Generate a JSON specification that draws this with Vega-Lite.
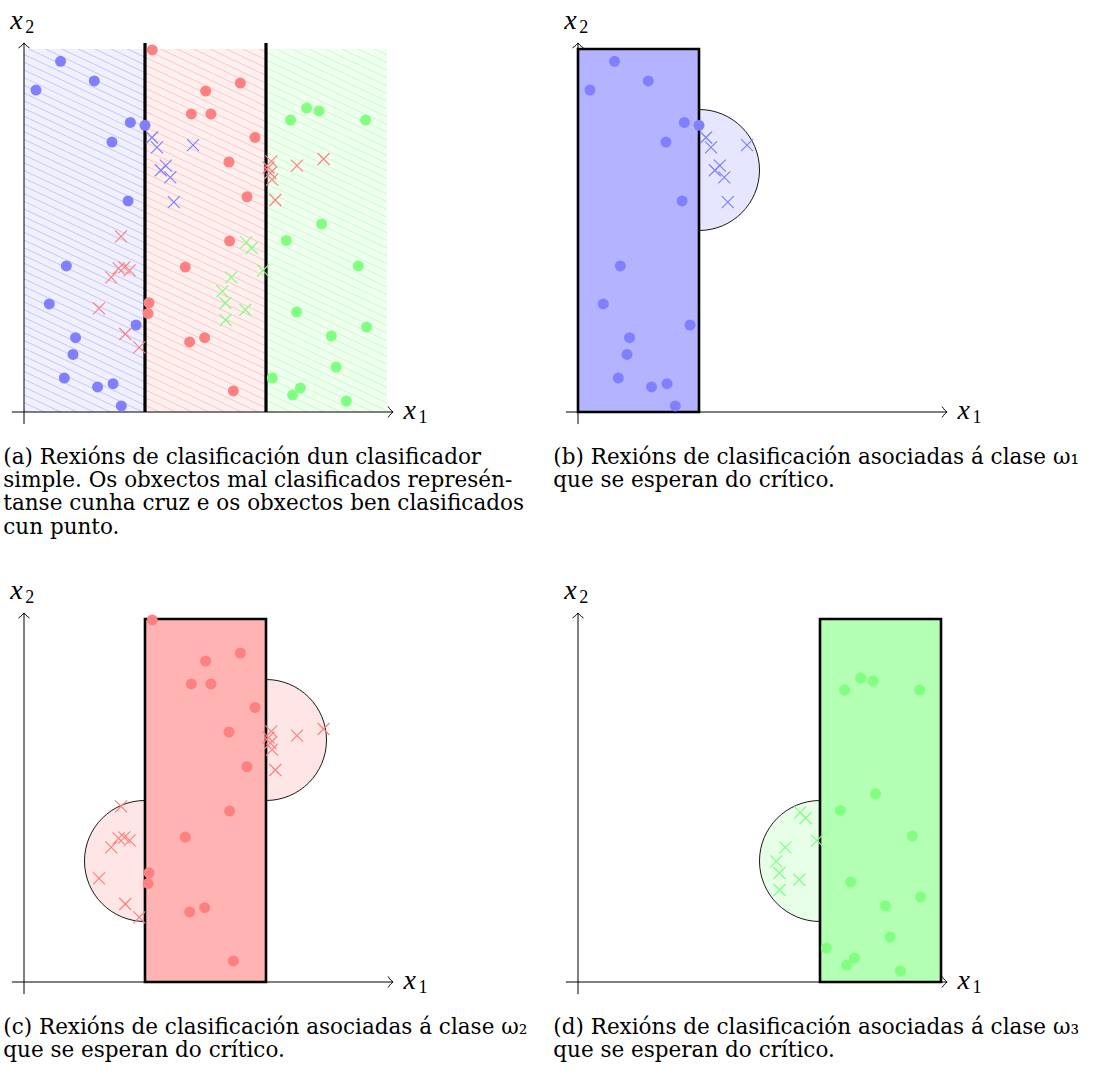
{
"$schema": "https://vega.github.io/schema/vega-lite/v6.json",
"padding": 0,
"background": "#ffffff",
"config": {"view": {"stroke": null}, "axis": {"disable": true}},
"datasets": {
"pts": [
{"x":0.302,"y":2.898,"cls":1,"ok":1},{"x":0.581,"y":2.736,"cls":1,"ok":1},{"x":0.099,"y":2.661,"cls":1,"ok":1},{"x":0.879,"y":2.393,"cls":1,"ok":1},{"x":1.0,"y":2.369,"cls":1,"ok":1},{"x":0.727,"y":2.231,"cls":1,"ok":1},{"x":0.860,"y":1.744,"cls":1,"ok":1},{"x":0.350,"y":1.207,"cls":1,"ok":1},{"x":0.209,"y":0.893,"cls":1,"ok":1},{"x":0.926,"y":0.719,"cls":1,"ok":1},{"x":0.426,"y":0.614,"cls":1,"ok":1},{"x":0.405,"y":0.476,"cls":1,"ok":1},{"x":0.333,"y":0.281,"cls":1,"ok":1},{"x":0.608,"y":0.207,"cls":1,"ok":1},{"x":0.736,"y":0.234,"cls":1,"ok":1},{"x":0.804,"y":0.050,"cls":1,"ok":1},
{"x":1.058,"y":2.269,"cls":1,"ok":0},{"x":1.099,"y":2.187,"cls":1,"ok":0},{"x":1.172,"y":2.036,"cls":1,"ok":0},{"x":1.131,"y":1.998,"cls":1,"ok":0},{"x":1.209,"y":1.939,"cls":1,"ok":0},{"x":1.397,"y":2.205,"cls":1,"ok":0},{"x":1.238,"y":1.734,"cls":1,"ok":0},
{"x":1.060,"y":2.992,"cls":2,"ok":1},{"x":1.788,"y":2.719,"cls":2,"ok":1},{"x":1.501,"y":2.653,"cls":2,"ok":1},{"x":1.383,"y":2.463,"cls":2,"ok":1},{"x":1.545,"y":2.463,"cls":2,"ok":1},{"x":1.909,"y":2.269,"cls":2,"ok":1},{"x":1.694,"y":2.066,"cls":2,"ok":1},{"x":1.843,"y":1.779,"cls":2,"ok":1},{"x":1.699,"y":1.413,"cls":2,"ok":1},{"x":1.333,"y":1.198,"cls":2,"ok":1},{"x":1.033,"y":0.903,"cls":2,"ok":1},{"x":1.025,"y":0.815,"cls":2,"ok":1},{"x":1.369,"y":0.579,"cls":2,"ok":1},{"x":1.493,"y":0.614,"cls":2,"ok":1},{"x":1.730,"y":0.174,"cls":2,"ok":1},
{"x":0.802,"y":1.451,"cls":2,"ok":0},{"x":0.782,"y":1.187,"cls":2,"ok":0},{"x":0.829,"y":1.195,"cls":2,"ok":0},{"x":0.873,"y":1.170,"cls":2,"ok":0},{"x":0.721,"y":1.112,"cls":2,"ok":0},{"x":0.620,"y":0.856,"cls":2,"ok":0},{"x":0.837,"y":0.645,"cls":2,"ok":0},{"x":0.953,"y":0.534,"cls":2,"ok":0},{"x":2.044,"y":2.071,"cls":2,"ok":0},{"x":2.021,"y":2.021,"cls":2,"ok":0},{"x":2.036,"y":1.975,"cls":2,"ok":0},{"x":2.050,"y":1.920,"cls":2,"ok":0},{"x":2.256,"y":2.036,"cls":2,"ok":0},{"x":2.476,"y":2.091,"cls":2,"ok":0},{"x":2.077,"y":1.752,"cls":2,"ok":0},
{"x":2.336,"y":2.512,"cls":3,"ok":1},{"x":2.438,"y":2.488,"cls":3,"ok":1},{"x":2.203,"y":2.413,"cls":3,"ok":1},{"x":2.823,"y":2.413,"cls":3,"ok":1},{"x":2.460,"y":1.554,"cls":3,"ok":1},{"x":2.168,"y":1.418,"cls":3,"ok":1},{"x":2.763,"y":1.207,"cls":3,"ok":1},{"x":2.253,"y":0.826,"cls":3,"ok":1},{"x":2.831,"y":0.702,"cls":3,"ok":1},{"x":2.540,"y":0.628,"cls":3,"ok":1},{"x":2.579,"y":0.372,"cls":3,"ok":1},{"x":2.052,"y":0.281,"cls":3,"ok":1},{"x":2.284,"y":0.198,"cls":3,"ok":1},{"x":2.220,"y":0.140,"cls":3,"ok":1},{"x":2.664,"y":0.091,"cls":3,"ok":1},
{"x":1.837,"y":1.402,"cls":3,"ok":0},{"x":1.881,"y":1.355,"cls":3,"ok":0},{"x":1.975,"y":1.168,"cls":3,"ok":0},{"x":1.713,"y":1.112,"cls":3,"ok":0},{"x":1.639,"y":0.997,"cls":3,"ok":0},{"x":1.664,"y":0.901,"cls":3,"ok":0},{"x":1.829,"y":0.845,"cls":3,"ok":0},{"x":1.666,"y":0.760,"cls":3,"ok":0}
]
},
"concat": [
{
"width": 363, "height": 363,
"data": {"values": [{}]},
"layer": [
{"mark": {"type": "rect", "fill": "#ffffff"}, "encoding": {"x": {"datum": -0.196, "scale": {"domain": [0, 3], "nice": false, "zero": false}}, "x2": {"datum": -0.19}, "y": {"datum": 3.399, "scale": {"domain": [0, 3], "nice": false, "zero": false}}, "y2": {"datum": 3.393}}},
{"data": {"values": [{"cls": 1, "lo": 0, "hi": 1}, {"cls": 2, "lo": 1, "hi": 2}, {"cls": 3, "lo": 2, "hi": 3}]},
 "mark": {"type": "rect"},
 "encoding": {"x": {"field": "lo", "type": "quantitative", "scale": {"domain": [0, 3], "nice": false, "zero": false}}, "x2": {"field": "hi"}, "y": {"datum": 0, "scale": {"domain": [0, 3], "nice": false, "zero": false}}, "y2": {"datum": 3},
  "fill": {"field": "cls", "type": "nominal", "scale": {"domain": [1, 2, 3], "range": ["#c4c4ff", "#ffc4c4", "#c4ffc4"]}, "legend": null}}},
{"mark": {"type": "rule", "color": "#ffffff", "strokeOpacity": 0.75, "strokeWidth": 560, "strokeCap": "butt", "strokeDash": [6.1, 0.9], "clip": true},
 "encoding": {"x": {"datum": 0.56, "scale": {"domain": [0, 3], "nice": false, "zero": false}}, "y": {"datum": -0.5, "scale": {"domain": [0, 3], "nice": false, "zero": false}}, "x2": {"datum": 2.44}, "y2": {"datum": 3.5}}},
{"data": {"values": [{"b": 1}, {"b": 2}]},
 "mark": {"type": "rule", "color": "#000000", "strokeWidth": 3.2},
 "encoding": {"x": {"field": "b", "type": "quantitative", "scale": {"domain": [0, 3], "nice": false, "zero": false}}, "y": {"datum": 0, "scale": {"domain": [0, 3], "nice": false, "zero": false}}, "y2": {"datum": 3.05}}},
{"mark": {"type": "rule", "color": "#000000", "strokeWidth": 1}, "encoding": {"x": {"datum": -0.1, "scale": {"domain": [0, 3], "nice": false, "zero": false}}, "x2": {"datum": 3.05}, "y": {"datum": 0, "scale": {"domain": [0, 3], "nice": false, "zero": false}}}},
{"mark": {"type": "rule", "color": "#000000", "strokeWidth": 1}, "encoding": {"x": {"datum": 0, "scale": {"domain": [0, 3], "nice": false, "zero": false}}, "y": {"datum": -0.1, "scale": {"domain": [0, 3], "nice": false, "zero": false}}, "y2": {"datum": 3.05}}},
{"mark": {"type": "point", "shape": "M-1,-1.1C-0.6,-0.5 -0.25,-0.15 0,0C-0.25,0.15 -0.6,0.5 -1,1.1", "filled": false, "stroke": "#000000", "strokeWidth": 1, "size": 100, "opacity": 1}, "encoding": {"x": {"datum": 3.05, "scale": {"domain": [0, 3], "nice": false, "zero": false}}, "y": {"datum": 0, "scale": {"domain": [0, 3], "nice": false, "zero": false}}}},
{"mark": {"type": "point", "shape": "M-1,-1.1C-0.6,-0.5 -0.25,-0.15 0,0C-0.25,0.15 -0.6,0.5 -1,1.1", "filled": false, "stroke": "#000000", "strokeWidth": 1, "size": 100, "opacity": 1, "angle": -90}, "encoding": {"x": {"datum": 0, "scale": {"domain": [0, 3], "nice": false, "zero": false}}, "y": {"datum": 3.05, "scale": {"domain": [0, 3], "nice": false, "zero": false}}}},
{"mark": {"type": "text", "text": "x", "font": "Liberation Serif", "fontStyle": "italic", "fontSize": 28, "align": "left", "baseline": "alphabetic", "color": "#000000"}, "encoding": {"x": {"datum": 3.137, "scale": {"domain": [0, 3], "nice": false, "zero": false}}, "y": {"datum": -0.058, "scale": {"domain": [0, 3], "nice": false, "zero": false}}}},
{"mark": {"type": "text", "text": "1", "font": "Liberation Serif", "fontSize": 18, "align": "left", "baseline": "alphabetic", "color": "#000000"}, "encoding": {"x": {"datum": 3.261, "scale": {"domain": [0, 3], "nice": false, "zero": false}}, "y": {"datum": -0.091, "scale": {"domain": [0, 3], "nice": false, "zero": false}}}},
{"mark": {"type": "text", "text": "x", "font": "Liberation Serif", "fontStyle": "italic", "fontSize": 28, "align": "left", "baseline": "alphabetic", "color": "#000000"}, "encoding": {"x": {"datum": -0.113, "scale": {"domain": [0, 3], "nice": false, "zero": false}}, "y": {"datum": 3.165, "scale": {"domain": [0, 3], "nice": false, "zero": false}}}},
{"mark": {"type": "text", "text": "2", "font": "Liberation Serif", "fontSize": 18, "align": "left", "baseline": "alphabetic", "color": "#000000"}, "encoding": {"x": {"datum": 0.011, "scale": {"domain": [0, 3], "nice": false, "zero": false}}, "y": {"datum": 3.132, "scale": {"domain": [0, 3], "nice": false, "zero": false}}}},
{"data": {"name": "pts"}, "transform": [{"filter": "datum.ok == 1"}],
 "mark": {"type": "circle", "size": 121, "opacity": 1},
 "encoding": {"x": {"field": "x", "type": "quantitative", "scale": {"domain": [0, 3], "nice": false, "zero": false}}, "y": {"field": "y", "type": "quantitative", "scale": {"domain": [0, 3], "nice": false, "zero": false}}, "color": {"field": "cls", "type": "nominal", "scale": {"domain": [1, 2, 3], "range": ["#8080ff", "#ff8080", "#80ff80"]}, "legend": null}}},
{"data": {"name": "pts"}, "transform": [{"filter": "datum.ok == 0"}],
 "mark": {"type": "point", "shape": "M-1,-1L1,1M-1,1L1,-1", "filled": false, "size": 144, "strokeWidth": 1.2, "opacity": 1},
 "encoding": {"x": {"field": "x", "type": "quantitative", "scale": {"domain": [0, 3], "nice": false, "zero": false}}, "y": {"field": "y", "type": "quantitative", "scale": {"domain": [0, 3], "nice": false, "zero": false}}, "color": {"field": "cls", "type": "nominal", "scale": {"domain": [1, 2, 3], "range": ["#8080ff", "#ff8080", "#80ff80"]}, "legend": null}}},
{"mark": {"type": "text", "text": ["(a) Rexións de clasificación dun clasificador", "simple. Os obxectos mal clasificados represén-", "tanse cunha cruz e os obxectos ben clasificados", "cun punto."], "font": "DejaVu Serif", "fontSize": 21.5, "lineHeight": 23.3, "align": "left", "baseline": "alphabetic", "color": "#000000"},
 "encoding": {"x": {"datum": -0.171, "scale": {"domain": [0, 3], "nice": false, "zero": false}}, "y": {"datum": -0.427, "scale": {"domain": [0, 3], "nice": false, "zero": false}}}}
]
},
{
"width": 363, "height": 363,
"data": {"values": [{}]},
"layer": [
{"mark": {"type": "rule", "color": "#000000", "strokeWidth": 1}, "encoding": {"x": {"datum": -0.1, "scale": {"domain": [0, 3], "nice": false, "zero": false}}, "x2": {"datum": 3.05}, "y": {"datum": 0, "scale": {"domain": [0, 3], "nice": false, "zero": false}}}},
{"mark": {"type": "rule", "color": "#000000", "strokeWidth": 1}, "encoding": {"x": {"datum": 0, "scale": {"domain": [0, 3], "nice": false, "zero": false}}, "y": {"datum": -0.1, "scale": {"domain": [0, 3], "nice": false, "zero": false}}, "y2": {"datum": 3.05}}},
{"mark": {"type": "point", "shape": "M-1,-1.1C-0.6,-0.5 -0.25,-0.15 0,0C-0.25,0.15 -0.6,0.5 -1,1.1", "filled": false, "stroke": "#000000", "strokeWidth": 1, "size": 100, "opacity": 1}, "encoding": {"x": {"datum": 3.05, "scale": {"domain": [0, 3], "nice": false, "zero": false}}, "y": {"datum": 0, "scale": {"domain": [0, 3], "nice": false, "zero": false}}}},
{"mark": {"type": "point", "shape": "M-1,-1.1C-0.6,-0.5 -0.25,-0.15 0,0C-0.25,0.15 -0.6,0.5 -1,1.1", "filled": false, "stroke": "#000000", "strokeWidth": 1, "size": 100, "opacity": 1, "angle": -90}, "encoding": {"x": {"datum": 0, "scale": {"domain": [0, 3], "nice": false, "zero": false}}, "y": {"datum": 3.05, "scale": {"domain": [0, 3], "nice": false, "zero": false}}}},
{"mark": {"type": "text", "text": "x", "font": "Liberation Serif", "fontStyle": "italic", "fontSize": 28, "align": "left", "baseline": "alphabetic", "color": "#000000"}, "encoding": {"x": {"datum": 3.137, "scale": {"domain": [0, 3], "nice": false, "zero": false}}, "y": {"datum": -0.058, "scale": {"domain": [0, 3], "nice": false, "zero": false}}}},
{"mark": {"type": "text", "text": "1", "font": "Liberation Serif", "fontSize": 18, "align": "left", "baseline": "alphabetic", "color": "#000000"}, "encoding": {"x": {"datum": 3.261, "scale": {"domain": [0, 3], "nice": false, "zero": false}}, "y": {"datum": -0.091, "scale": {"domain": [0, 3], "nice": false, "zero": false}}}},
{"mark": {"type": "text", "text": "x", "font": "Liberation Serif", "fontStyle": "italic", "fontSize": 28, "align": "left", "baseline": "alphabetic", "color": "#000000"}, "encoding": {"x": {"datum": -0.113, "scale": {"domain": [0, 3], "nice": false, "zero": false}}, "y": {"datum": 3.165, "scale": {"domain": [0, 3], "nice": false, "zero": false}}}},
{"mark": {"type": "text", "text": "2", "font": "Liberation Serif", "fontSize": 18, "align": "left", "baseline": "alphabetic", "color": "#000000"}, "encoding": {"x": {"datum": 0.011, "scale": {"domain": [0, 3], "nice": false, "zero": false}}, "y": {"datum": 3.132, "scale": {"domain": [0, 3], "nice": false, "zero": false}}}},
{"mark": {"type": "point", "shape": "M0,-1A1,1 0 0,1 0,1Z", "filled": true, "fill": "#e6e6ff", "stroke": "#000000", "strokeWidth": 0.9, "size": 14641, "opacity": 1}, "encoding": {"x": {"datum": 1, "scale": {"domain": [0, 3], "nice": false, "zero": false}}, "y": {"datum": 2, "scale": {"domain": [0, 3], "nice": false, "zero": false}}}},
{"mark": {"type": "rect", "fill": "#b3b3ff", "stroke": "#000000", "strokeWidth": 2.6}, "encoding": {"x": {"datum": 0, "scale": {"domain": [0, 3], "nice": false, "zero": false}}, "x2": {"datum": 1}, "y": {"datum": 0, "scale": {"domain": [0, 3], "nice": false, "zero": false}}, "y2": {"datum": 3}}},
{"data": {"name": "pts"}, "transform": [{"filter": "datum.cls == 1 && datum.ok == 1"}],
 "mark": {"type": "circle", "size": 121, "opacity": 1, "color": "#8080ff"},
 "encoding": {"x": {"field": "x", "type": "quantitative", "scale": {"domain": [0, 3], "nice": false, "zero": false}}, "y": {"field": "y", "type": "quantitative", "scale": {"domain": [0, 3], "nice": false, "zero": false}}}},
{"data": {"name": "pts"}, "transform": [{"filter": "datum.cls == 1 && datum.ok == 0"}],
 "mark": {"type": "point", "shape": "M-1,-1L1,1M-1,1L1,-1", "filled": false, "size": 144, "strokeWidth": 1.2, "opacity": 1, "color": "#8080ff"},
 "encoding": {"x": {"field": "x", "type": "quantitative", "scale": {"domain": [0, 3], "nice": false, "zero": false}}, "y": {"field": "y", "type": "quantitative", "scale": {"domain": [0, 3], "nice": false, "zero": false}}}},
{"mark": {"type": "text", "text": ["(b) Rexións de clasificación asociadas á clase ω₁", "que se esperan do crítico."], "font": "DejaVu Serif", "fontSize": 21.5, "lineHeight": 23.3, "align": "left", "baseline": "alphabetic", "color": "#000000"},
 "encoding": {"x": {"datum": -0.204, "scale": {"domain": [0, 3], "nice": false, "zero": false}}, "y": {"datum": -0.427, "scale": {"domain": [0, 3], "nice": false, "zero": false}}}}
]
},
{
"width": 363, "height": 363,
"data": {"values": [{}]},
"layer": [
{"mark": {"type": "rule", "color": "#000000", "strokeWidth": 1}, "encoding": {"x": {"datum": -0.1, "scale": {"domain": [0, 3], "nice": false, "zero": false}}, "x2": {"datum": 3.05}, "y": {"datum": 0, "scale": {"domain": [0, 3], "nice": false, "zero": false}}}},
{"mark": {"type": "rule", "color": "#000000", "strokeWidth": 1}, "encoding": {"x": {"datum": 0, "scale": {"domain": [0, 3], "nice": false, "zero": false}}, "y": {"datum": -0.1, "scale": {"domain": [0, 3], "nice": false, "zero": false}}, "y2": {"datum": 3.05}}},
{"mark": {"type": "point", "shape": "M-1,-1.1C-0.6,-0.5 -0.25,-0.15 0,0C-0.25,0.15 -0.6,0.5 -1,1.1", "filled": false, "stroke": "#000000", "strokeWidth": 1, "size": 100, "opacity": 1}, "encoding": {"x": {"datum": 3.05, "scale": {"domain": [0, 3], "nice": false, "zero": false}}, "y": {"datum": 0, "scale": {"domain": [0, 3], "nice": false, "zero": false}}}},
{"mark": {"type": "point", "shape": "M-1,-1.1C-0.6,-0.5 -0.25,-0.15 0,0C-0.25,0.15 -0.6,0.5 -1,1.1", "filled": false, "stroke": "#000000", "strokeWidth": 1, "size": 100, "opacity": 1, "angle": -90}, "encoding": {"x": {"datum": 0, "scale": {"domain": [0, 3], "nice": false, "zero": false}}, "y": {"datum": 3.05, "scale": {"domain": [0, 3], "nice": false, "zero": false}}}},
{"mark": {"type": "text", "text": "x", "font": "Liberation Serif", "fontStyle": "italic", "fontSize": 28, "align": "left", "baseline": "alphabetic", "color": "#000000"}, "encoding": {"x": {"datum": 3.137, "scale": {"domain": [0, 3], "nice": false, "zero": false}}, "y": {"datum": -0.058, "scale": {"domain": [0, 3], "nice": false, "zero": false}}}},
{"mark": {"type": "text", "text": "1", "font": "Liberation Serif", "fontSize": 18, "align": "left", "baseline": "alphabetic", "color": "#000000"}, "encoding": {"x": {"datum": 3.261, "scale": {"domain": [0, 3], "nice": false, "zero": false}}, "y": {"datum": -0.091, "scale": {"domain": [0, 3], "nice": false, "zero": false}}}},
{"mark": {"type": "text", "text": "x", "font": "Liberation Serif", "fontStyle": "italic", "fontSize": 28, "align": "left", "baseline": "alphabetic", "color": "#000000"}, "encoding": {"x": {"datum": -0.113, "scale": {"domain": [0, 3], "nice": false, "zero": false}}, "y": {"datum": 3.165, "scale": {"domain": [0, 3], "nice": false, "zero": false}}}},
{"mark": {"type": "text", "text": "2", "font": "Liberation Serif", "fontSize": 18, "align": "left", "baseline": "alphabetic", "color": "#000000"}, "encoding": {"x": {"datum": 0.011, "scale": {"domain": [0, 3], "nice": false, "zero": false}}, "y": {"datum": 3.132, "scale": {"domain": [0, 3], "nice": false, "zero": false}}}},
{"mark": {"type": "point", "shape": "M0,-1A1,1 0 0,1 0,1Z", "filled": true, "fill": "#ffe6e6", "stroke": "#000000", "strokeWidth": 0.9, "size": 14641, "opacity": 1}, "encoding": {"x": {"datum": 2, "scale": {"domain": [0, 3], "nice": false, "zero": false}}, "y": {"datum": 2, "scale": {"domain": [0, 3], "nice": false, "zero": false}}}},
{"mark": {"type": "point", "shape": "M0,-1A1,1 0 0,0 0,1Z", "filled": true, "fill": "#ffe6e6", "stroke": "#000000", "strokeWidth": 0.9, "size": 14641, "opacity": 1}, "encoding": {"x": {"datum": 1, "scale": {"domain": [0, 3], "nice": false, "zero": false}}, "y": {"datum": 1, "scale": {"domain": [0, 3], "nice": false, "zero": false}}}},
{"mark": {"type": "rect", "fill": "#ffb3b3", "stroke": "#000000", "strokeWidth": 2.6}, "encoding": {"x": {"datum": 1, "scale": {"domain": [0, 3], "nice": false, "zero": false}}, "x2": {"datum": 2}, "y": {"datum": 0, "scale": {"domain": [0, 3], "nice": false, "zero": false}}, "y2": {"datum": 3}}},
{"data": {"name": "pts"}, "transform": [{"filter": "datum.cls == 2 && datum.ok == 1"}],
 "mark": {"type": "circle", "size": 121, "opacity": 1, "color": "#ff8080"},
 "encoding": {"x": {"field": "x", "type": "quantitative", "scale": {"domain": [0, 3], "nice": false, "zero": false}}, "y": {"field": "y", "type": "quantitative", "scale": {"domain": [0, 3], "nice": false, "zero": false}}}},
{"data": {"name": "pts"}, "transform": [{"filter": "datum.cls == 2 && datum.ok == 0"}],
 "mark": {"type": "point", "shape": "M-1,-1L1,1M-1,1L1,-1", "filled": false, "size": 144, "strokeWidth": 1.2, "opacity": 1, "color": "#ff8080"},
 "encoding": {"x": {"field": "x", "type": "quantitative", "scale": {"domain": [0, 3], "nice": false, "zero": false}}, "y": {"field": "y", "type": "quantitative", "scale": {"domain": [0, 3], "nice": false, "zero": false}}}},
{"mark": {"type": "text", "text": ["(c) Rexións de clasificación asociadas á clase ω₂", "que se esperan do crítico."], "font": "DejaVu Serif", "fontSize": 21.5, "lineHeight": 23.3, "align": "left", "baseline": "alphabetic", "color": "#000000"},
 "encoding": {"x": {"datum": -0.171, "scale": {"domain": [0, 3], "nice": false, "zero": false}}, "y": {"datum": -0.427, "scale": {"domain": [0, 3], "nice": false, "zero": false}}}}
]
},
{
"width": 363, "height": 363,
"data": {"values": [{}]},
"layer": [
{"mark": {"type": "rule", "color": "#000000", "strokeWidth": 1}, "encoding": {"x": {"datum": -0.1, "scale": {"domain": [0, 3], "nice": false, "zero": false}}, "x2": {"datum": 3.05}, "y": {"datum": 0, "scale": {"domain": [0, 3], "nice": false, "zero": false}}}},
{"mark": {"type": "rule", "color": "#000000", "strokeWidth": 1}, "encoding": {"x": {"datum": 0, "scale": {"domain": [0, 3], "nice": false, "zero": false}}, "y": {"datum": -0.1, "scale": {"domain": [0, 3], "nice": false, "zero": false}}, "y2": {"datum": 3.05}}},
{"mark": {"type": "point", "shape": "M-1,-1.1C-0.6,-0.5 -0.25,-0.15 0,0C-0.25,0.15 -0.6,0.5 -1,1.1", "filled": false, "stroke": "#000000", "strokeWidth": 1, "size": 100, "opacity": 1}, "encoding": {"x": {"datum": 3.05, "scale": {"domain": [0, 3], "nice": false, "zero": false}}, "y": {"datum": 0, "scale": {"domain": [0, 3], "nice": false, "zero": false}}}},
{"mark": {"type": "point", "shape": "M-1,-1.1C-0.6,-0.5 -0.25,-0.15 0,0C-0.25,0.15 -0.6,0.5 -1,1.1", "filled": false, "stroke": "#000000", "strokeWidth": 1, "size": 100, "opacity": 1, "angle": -90}, "encoding": {"x": {"datum": 0, "scale": {"domain": [0, 3], "nice": false, "zero": false}}, "y": {"datum": 3.05, "scale": {"domain": [0, 3], "nice": false, "zero": false}}}},
{"mark": {"type": "text", "text": "x", "font": "Liberation Serif", "fontStyle": "italic", "fontSize": 28, "align": "left", "baseline": "alphabetic", "color": "#000000"}, "encoding": {"x": {"datum": 3.137, "scale": {"domain": [0, 3], "nice": false, "zero": false}}, "y": {"datum": -0.058, "scale": {"domain": [0, 3], "nice": false, "zero": false}}}},
{"mark": {"type": "text", "text": "1", "font": "Liberation Serif", "fontSize": 18, "align": "left", "baseline": "alphabetic", "color": "#000000"}, "encoding": {"x": {"datum": 3.261, "scale": {"domain": [0, 3], "nice": false, "zero": false}}, "y": {"datum": -0.091, "scale": {"domain": [0, 3], "nice": false, "zero": false}}}},
{"mark": {"type": "text", "text": "x", "font": "Liberation Serif", "fontStyle": "italic", "fontSize": 28, "align": "left", "baseline": "alphabetic", "color": "#000000"}, "encoding": {"x": {"datum": -0.113, "scale": {"domain": [0, 3], "nice": false, "zero": false}}, "y": {"datum": 3.165, "scale": {"domain": [0, 3], "nice": false, "zero": false}}}},
{"mark": {"type": "text", "text": "2", "font": "Liberation Serif", "fontSize": 18, "align": "left", "baseline": "alphabetic", "color": "#000000"}, "encoding": {"x": {"datum": 0.011, "scale": {"domain": [0, 3], "nice": false, "zero": false}}, "y": {"datum": 3.132, "scale": {"domain": [0, 3], "nice": false, "zero": false}}}},
{"mark": {"type": "point", "shape": "M0,-1A1,1 0 0,0 0,1Z", "filled": true, "fill": "#e6ffe6", "stroke": "#000000", "strokeWidth": 0.9, "size": 14641, "opacity": 1}, "encoding": {"x": {"datum": 2, "scale": {"domain": [0, 3], "nice": false, "zero": false}}, "y": {"datum": 1, "scale": {"domain": [0, 3], "nice": false, "zero": false}}}},
{"mark": {"type": "rect", "fill": "#b3ffb3", "stroke": "#000000", "strokeWidth": 2.6}, "encoding": {"x": {"datum": 2, "scale": {"domain": [0, 3], "nice": false, "zero": false}}, "x2": {"datum": 3}, "y": {"datum": 0, "scale": {"domain": [0, 3], "nice": false, "zero": false}}, "y2": {"datum": 3}}},
{"data": {"name": "pts"}, "transform": [{"filter": "datum.cls == 3 && datum.ok == 1"}],
 "mark": {"type": "circle", "size": 121, "opacity": 1, "color": "#80ff80"},
 "encoding": {"x": {"field": "x", "type": "quantitative", "scale": {"domain": [0, 3], "nice": false, "zero": false}}, "y": {"field": "y", "type": "quantitative", "scale": {"domain": [0, 3], "nice": false, "zero": false}}}},
{"data": {"name": "pts"}, "transform": [{"filter": "datum.cls == 3 && datum.ok == 0"}],
 "mark": {"type": "point", "shape": "M-1,-1L1,1M-1,1L1,-1", "filled": false, "size": 144, "strokeWidth": 1.2, "opacity": 1, "color": "#80ff80"},
 "encoding": {"x": {"field": "x", "type": "quantitative", "scale": {"domain": [0, 3], "nice": false, "zero": false}}, "y": {"field": "y", "type": "quantitative", "scale": {"domain": [0, 3], "nice": false, "zero": false}}}},
{"mark": {"type": "text", "text": ["(d) Rexións de clasificación asociadas á clase ω₃", "que se esperan do crítico."], "font": "DejaVu Serif", "fontSize": 21.5, "lineHeight": 23.3, "align": "left", "baseline": "alphabetic", "color": "#000000"},
 "encoding": {"x": {"datum": -0.204, "scale": {"domain": [0, 3], "nice": false, "zero": false}}, "y": {"datum": -0.427, "scale": {"domain": [0, 3], "nice": false, "zero": false}}}}
]
}
],
"columns": 2,
"spacing": {"row": 207, "column": 191},
"bounds": "flush"
}
